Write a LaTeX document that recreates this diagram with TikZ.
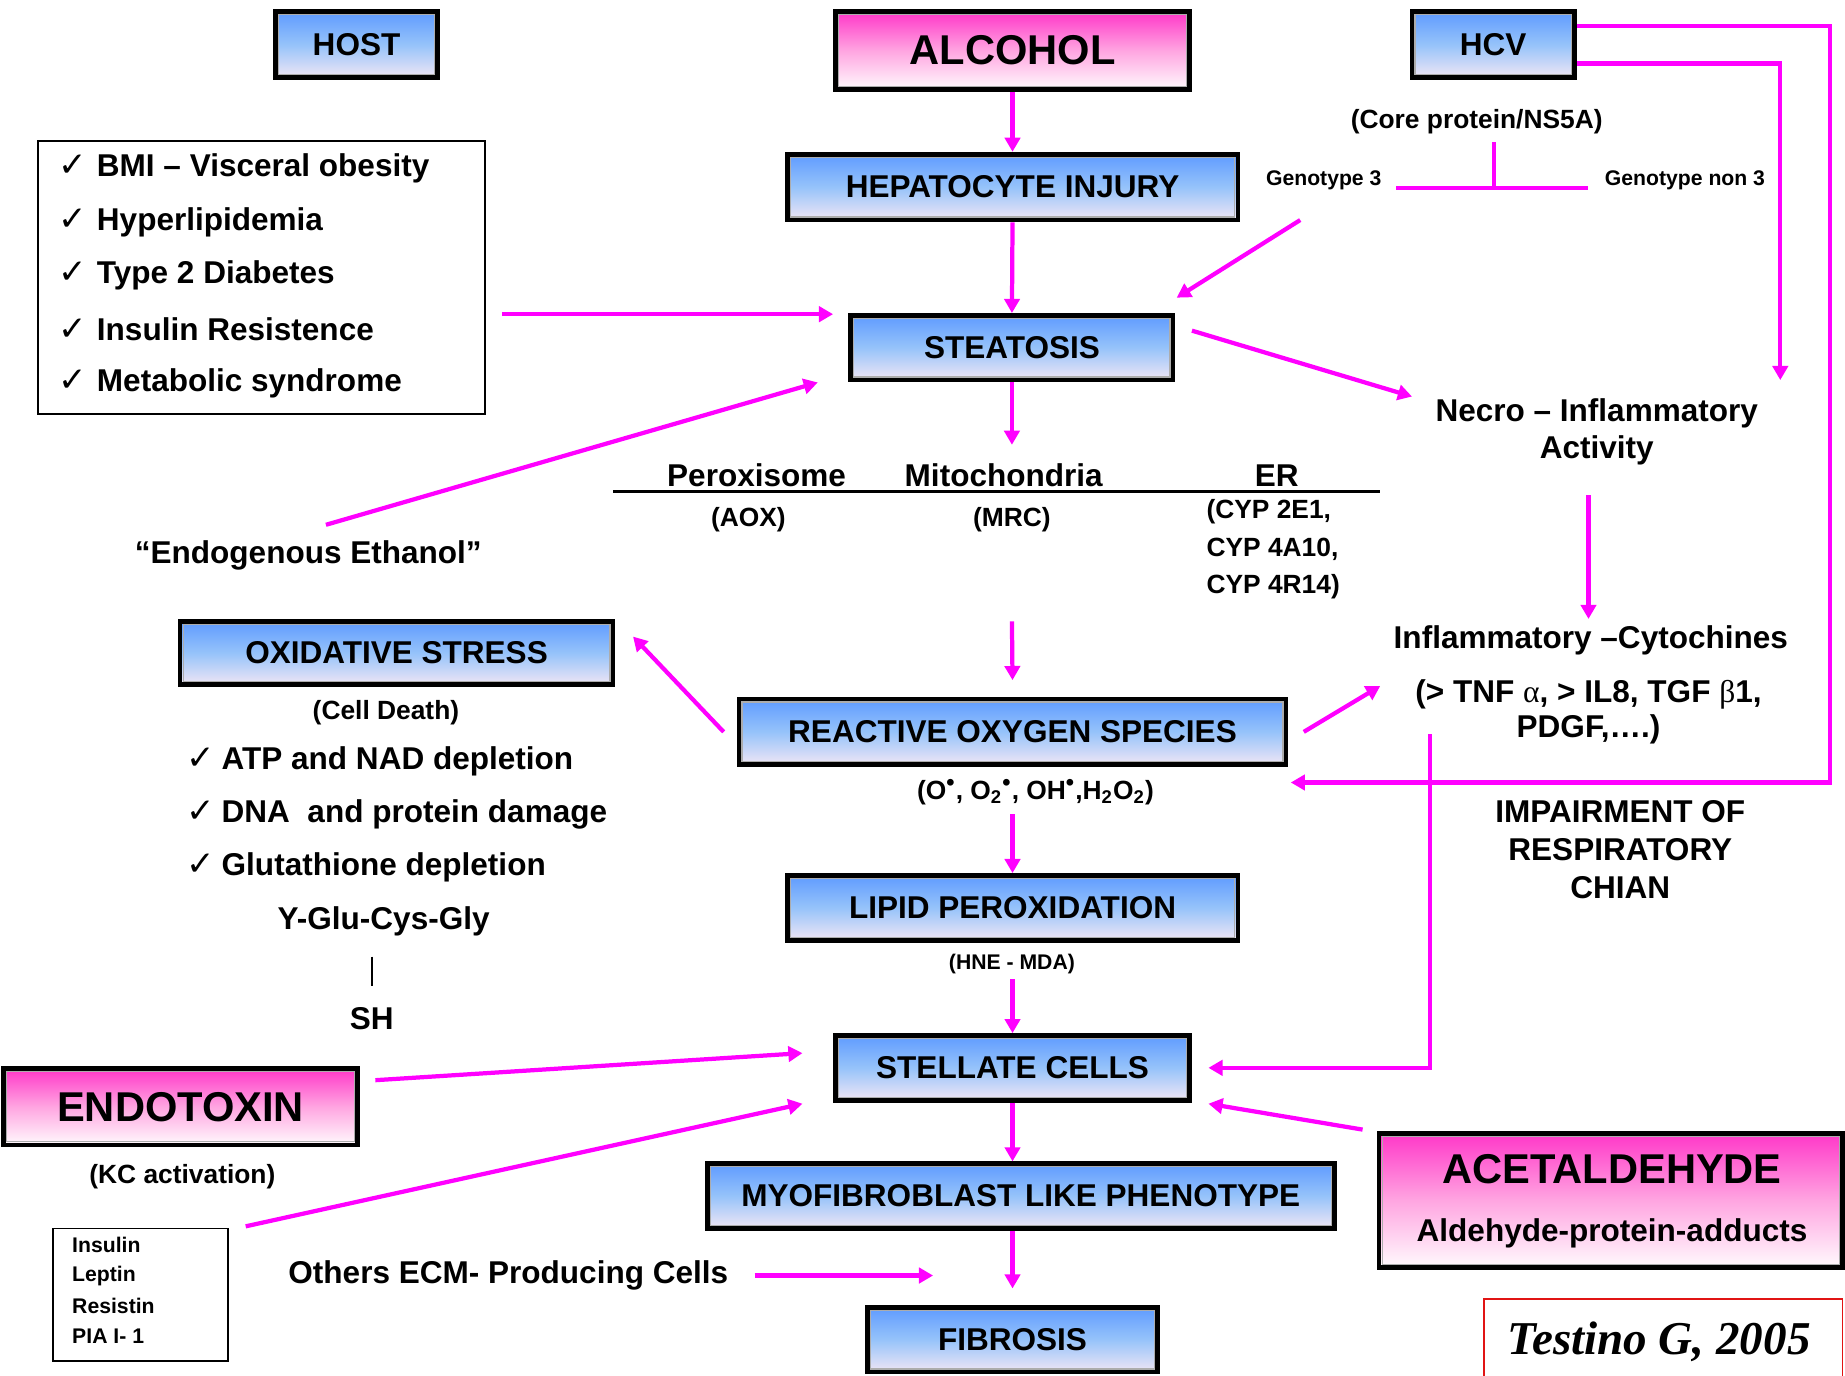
\documentclass[tikz,border=0pt]{standalone}
\usepackage{fontspec}
\setmainfont{Liberation Sans}
\newfontfamily\symf{DejaVu Sans}
\newfontfamily\serf{Liberation Serif}
\usetikzlibrary{arrows.meta,calc}
\definecolor{mag}{RGB}{255,0,255}
\definecolor{bTop}{RGB}{95,155,255}
\definecolor{bMid}{RGB}{150,195,250}
\definecolor{bBot}{RGB}{240,230,245}
\definecolor{pTop}{RGB}{255,55,200}
\definecolor{pMid}{RGB}{255,165,225}
\definecolor{pBot}{RGB}{255,250,253}
\definecolor{refred}{RGB}{225,20,20}
\newcommand\szmain{\fontsize{13.4pt}{16pt}\selectfont\bfseries}
\newcommand\szsec{\fontsize{11.2pt}{16pt}\selectfont\bfseries}
\newcommand\szsmall{\fontsize{9pt}{13pt}\selectfont\bfseries}
\newcommand\szbig{\fontsize{17.7pt}{20pt}\selectfont\bfseries}
\newcommand\chkA{\makebox[16.5pt][l]{\symf\mdseries\fontsize{14.5pt}{14pt}\selectfont ✓}}
\newcommand\chkB{\makebox[15pt][l]{\symf\mdseries\fontsize{14.5pt}{14pt}\selectfont ✓}}
\newcommand\grk[1]{{\serf\mdseries #1}}
\newcommand\rdot{\textsuperscript{\fontsize{10pt}{10pt}\selectfont •}}
\tikzset{
  sz/.style 2 args={minimum width=#1*0.5pt, minimum height=#2*0.5pt},
  inner/.style={path picture={\draw[gray!65, line width=0.5pt]
      ([shift={(1.3pt,-1.3pt)}]path picture bounding box.north west) rectangle
      ([shift={(-1.3pt,1.3pt)}]path picture bounding box.south east);}},
  bbox/.style={draw=black, line width=2pt, top color=bTop, bottom color=bBot, middle color=bMid, inner sep=0pt, font=\szmain, inner},
  pbox/.style={draw=black, line width=2pt, top color=pTop, bottom color=pBot, middle color=pMid, inner sep=0pt, font=\szbig, inner},
  thinbox/.style={draw=black, line width=0.8pt, inner sep=0pt},
  txt/.style={inner sep=0pt, font=\szmain},
  mline/.style={draw=mag, line width=1.8pt},
  arr/.style={mline, -{Triangle[length=6pt,width=6.5pt]}},
}
\begin{document}
\begin{tikzpicture}[x=0.5pt,y=-0.5pt]
\fill[white] (0,0) rectangle (1568,1169);
\useasboundingbox (0,0) rectangle (1568,1169);

% ---- boxes
\node[bbox, sz={138}{56}] (host) at (303,38) {HOST};
\node[pbox, sz={301}{66}] (alc) at (860.5,43) {ALCOHOL};
\node[bbox, sz={138}{56}] (hcv) at (1269,38) {HCV};
\node[bbox, sz={383}{56}] (hep) at (860.5,159) {HEPATOCYTE INJURY};
\node[bbox, sz={274}{55}] (steat) at (860,295.5) {STEATOSIS};
\node[bbox, sz={368}{54}] (oxs) at (337,555) {OXIDATIVE STRESS};
\node[bbox, sz={465}{56}] (ros) at (860.5,622) {REACTIVE OXYGEN SPECIES};
\node[bbox, sz={383}{55}] (lipid) at (860.5,771.5) {LIPID PEROXIDATION};
\node[bbox, sz={301}{55}] (stell) at (860.5,907.5) {STELLATE CELLS};
\node[pbox, sz={301}{65}] (endo) at (153.5,940.5) {ENDOTOXIN};
\node[bbox, sz={533}{55}] (myo) at (867.5,1016.5) {MYOFIBROBLAST LIKE PHENOTYPE};
\node[pbox, sz={394}{114}] (acet) at (1369,1020) {};
\node[txt, font=\szbig] (acett) at (1370,994) {ACETALDEHYDE};
\node[txt] (ald) at (1370,1048) {Aldehyde-protein-adducts};
\node[bbox, sz={247}{55}] (fib) at (860.5,1138.5) {FIBROSIS};

% ---- host factors
\node[thinbox, sz={380}{232}] (bmibox) at (222,236) {};
\node[txt, anchor=west] (h1) at (49,143) {\chkA BMI – Visceral obesity};
\node[txt, anchor=west] (h2) at (49,189) {\chkA Hyperlipidemia};
\node[txt, anchor=west] (h3) at (49,234) {\chkA Type 2 Diabetes};
\node[txt, anchor=west] (h4) at (49,280) {\chkA Insulin Resistence};
\node[txt, anchor=west] (h5) at (49,326) {\chkA Metabolic syndrome};

\node[txt] (eth) at (262,472) {“Endogenous Ethanol”};

% ---- HCV
\node[txt, font=\szsec] (core) at (1255,103) {(Core protein/NS5A)};
\node[txt, font=\szsmall] (geno3) at (1125,153) {Genotype 3};
\node[txt, font=\szsmall] (genon3) at (1432,153) {Genotype non 3};
\draw[mline] ($(geno3.east)+(12,7)$) -- ($(genon3.west)+(-14,7)$);
\draw[mline] ($(core.center)+(15,18)$) -- ++(0,39);

\node[txt, align=center] (necro) at (1357,367) {Necro – Inflammatory\\Activity};
\node[txt] (cyto) at (1352,544) {Inflammatory –Cytochines};
\node[txt, align=center, font=\fontsize{13.4pt}{15pt}\selectfont\bfseries] (tnf) at (1350,605) {(> TNF \grk{α}, > IL8, TGF \grk{β}1,\\PDGF,….)};
\node[txt, align=center] (imp) at (1377,722) {IMPAIRMENT OF\\RESPIRATORY\\CHIAN};

% ---- organelles
\node[txt] (perox) at (643,404) {Peroxisome};
\node[txt] (mito) at (853,404) {Mitochondria};
\node[txt] (er) at (1085,404) {ER};
\draw[line width=1.3pt] (521,418) -- (1173,418);
\node[txt, font=\szsec] (aox) at (636,442) {(AOX)};
\node[txt, font=\szsec] (mrc) at (860,442) {(MRC)};
\node[txt, font=\szsec, align=left, anchor=west] (cyp) at (1025,467) {(CYP 2E1,\\CYP 4A10,\\CYP 4R14)};

% ---- oxidative stress
\node[txt, font=\szsec] (cdeath) at (328,606) {(Cell Death)};
\node[txt, anchor=west] (atp) at (158,647) {\chkB ATP and NAD depletion};
\node[txt, anchor=west] (dna) at (158,692) {\chkB DNA\ \ and protein damage};
\node[txt, anchor=west] (glu) at (158,737) {\chkB Glutathione depletion};
\node[txt] (ygl) at (326,783) {Y-Glu-Cys-Gly};
\node[txt] (sh) at (316,866) {SH};
\draw[line width=0.8pt] ($(sh.center)+(0,-53)$) -- ($(sh.center)+(0,-28)$);

\node[txt, font=\szsec] (rosf) at (880,673) {(O\rdot, O\textsubscript{2}\rdot, OH\rdot,H\textsubscript{2}O\textsubscript{2})};
\node[txt, font=\szsmall] (hne) at (860,819) {(HNE - MDA)};

% ---- lower left
\node[txt, font=\szsec] (kc) at (155,1000) {(KC activation)};
\node[thinbox, sz={149}{113}] (insbox) at (119.5,1100.5) {};
\node[txt, font=\szsmall, anchor=west] (i1) at (61,1058) {Insulin};
\node[txt, font=\szsmall, anchor=west] (i2) at (61,1084) {Leptin};
\node[txt, font=\szsmall, anchor=west] (i3) at (61,1110) {Resistin};
\node[txt, font=\szsmall, anchor=west] (i4) at (61,1136) {PIA I- 1};
\node[txt] (others) at (432,1084) {Others ECM- Producing Cells};

% ---- citation
\node[inner sep=0pt, font=\serf\bfseries\itshape\fontsize{20pt}{22pt}\selectfont] (cite) at (1410,1140) {Testino G, 2005};
\draw[refred, line width=0.7pt] (1261,1169) |- (1566,1104) -- (1566,1169);

% ---- connectors
\draw[arr] (alc.south) -- (hep.north);
\draw[arr] (hep.south) -- (steat.north);
\draw[arr] ($(bmibox.east |- steat.north)+(14,1)$) -- ($(steat.north west)+(-13,1)$);
\draw[arr] ($(eth.center)+(15,-26)$) -- ($(steat.south west)+(-26,0)$);
\draw[arr] ($(geno3.center)+(-20,34)$) -- ($(steat.north east)+(1,-13)$);
\draw[arr] ($(steat.north east)+(14,15)$) -- ($(necro.center)+(-157,-30)$);
\coordinate (orgtop) at (860,378);
\draw[arr] (steat.south) -- (orgtop);
\draw[arr] ($(hcv.north east)+(0,14)$) -- ++(215,0) |- ($(ros.south east)+(2,13)$);
\draw[arr] ($(hcv.south east)+(0,-14)$) -| ($(necro.center)+(156,-44)$);
\draw[arr] ($(necro.center)+(-7,54)$) -- ($(cyto.center)+(-2,-18)$);
\draw[arr] ($(mrc.center)+(0,86)$) -- ($(ros.north)+(0,-14)$);
\draw[arr] ($(ros.west)+(-11,0)$) -- ($(oxs.north east)+(15,15)$);
\draw[arr] ($(ros.east)+(13,0)$) -- ($(tnf.center)+(-177,-22)$);
\draw[arr] ($(ros.south)+(0,40)$) -- (lipid.north);
\draw[arr] ($(lipid.south)+(0,31)$) -- (stell.north);
\draw[arr] ($(tnf.center)+(-135,19)$) |- ($(stell.east)+(14,0)$);
\draw[arr] ($(endo.north east)+(13,12)$) -- ($(stell.west)+(-26,-12.5)$);
\draw[arr] ($(insbox.north east)+(14,-1)$) -- ($(stell.south west)+(-26,1)$);
\draw[arr] ($(acet.north west)+(-12,-1)$) -- ($(stell.south east)+(14,1)$);
\draw[arr] (stell.south) -- (stell.south |- myo.north);
\draw[arr] (myo.south -| stell.south) -- ($(fib.north)+(0,-14)$);
\coordinate (ecmend) at (793,1084);
\draw[arr] ($(others.east)+(22,0)$) -- (ecmend);
\end{tikzpicture}
\end{document}
